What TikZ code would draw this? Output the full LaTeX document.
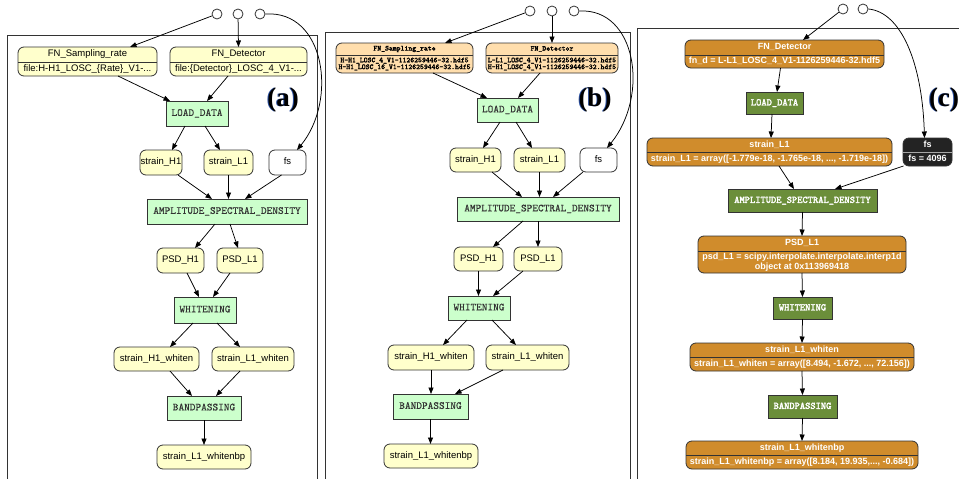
\documentclass[tikz,border=0pt]{standalone}
\usepackage{fontspec}
\usetikzlibrary{arrows.meta,calc}
\newfontfamily\hv{Liberation Sans}
\newfontfamily\lser{Liberation Serif}
\newfontfamily\ttmid{lmmono10-regular.otf}[FakeBold=0.3]
\newfontfamily\ttheavy{lmmono10-regular.otf}[FakeBold=2.6]
\definecolor{dataY}{HTML}{FFFFCC}
\definecolor{procG}{HTML}{CCFFCC}
\definecolor{dataO}{HTML}{FFDEAD}
\definecolor{dataC}{HTML}{D08C2C}
\definecolor{procC}{HTML}{6B8E3A}
\definecolor{inkD}{HTML}{232323}
\definecolor{lineK}{HTML}{333333}
\definecolor{glow}{HTML}{2A4FA0}
\newcommand\fHv{\hv\fontsize{9.5}{11}\selectfont}
\newcommand\fTt{\ttmid\fontsize{10.8}{11}\selectfont}
\newcommand\fTiny{\ttheavy\fontsize{7.4}{6.8}\selectfont}
\newcommand\fHvB{\hv\bfseries\fontsize{9}{10}\selectfont}
\newcommand\fTtB{\ttheavy\fontsize{10}{10}\selectfont}
\tikzset{
  base/.style={draw=lineK, line width=0.8pt, inner sep=0pt, outer sep=0pt, align=center},
  one/.style={text height=6.9pt, text depth=2.1pt},
  datum/.style={base, one, rounded corners=6pt, fill=dataY, font=\fHv, minimum height=25pt},
  proc/.style={base, one, fill=procG, text=lineK, font=\fTt, minimum height=25pt},
  recY/.style={base, rounded corners=6pt, fill=dataY, minimum height=29pt},
  recO/.style={base, rounded corners=6pt, fill=dataO, minimum height=30pt},
  recC/.style={base, rounded corners=6pt, fill=dataC, minimum height=28pt},
  procD/.style={base, one, fill=procC, text=white, font=\fTtB, minimum height=22pt},
  split/.style={draw=lineK, line width=0.8pt},
  txt/.style={inner sep=0pt, outer sep=0pt, align=center},
  circ/.style={circle, draw=lineK, line width=0.8pt, fill=white, minimum size=10pt, inner sep=0pt},
  conn/.style={draw=black, line width=0.75pt, -{Triangle[length=6.5pt,width=5pt]}},
  frame/.style={draw=lineK, line width=1pt},
  plabel/.style={inner sep=0pt, font=\lser\bfseries\fontsize{27}{27}\selectfont},
}
\begin{document}
\begin{tikzpicture}[x=1pt,y=-1pt]
\useasboundingbox (0,0) rectangle (959,479);
\fill[white] (0,0) rectangle (959,479);

% panel frames
\draw[frame] (7,35) rectangle (317,495);
\draw[frame] (325,32) rectangle (630,495);
\draw[frame] (637,28) rectangle (975,495);

%================ panel (a) ================
\node[circ] (c1A) at (217,14) {};
\node[circ] (c2A) at (238,14) {};
\node[circ] (c3A) at (260,14) {};

\node[recY, minimum width=139pt] (fsrA) at (87.5,61.5) {};
\draw[split] ([yshift=-15pt]fsrA.north west) -- ([yshift=-15pt]fsrA.north east);
\node[txt, one, font=\fHv] (fsrA-t) at ([yshift=-7.5pt]fsrA.north) {FN\_Sampling\_rate};
\node[txt, one, font=\fHv] (fsrA-c) at ([yshift=7pt]fsrA.south) {file:H-H1\_LOSC\_\{Rate\}\_V1-...};

\node[recY, minimum width=137pt] (fdA) at (238.5,61.5) {};
\draw[split] ([yshift=-15pt]fdA.north west) -- ([yshift=-15pt]fdA.north east);
\node[txt, one, font=\fHv] (fdA-t) at ([yshift=-7.5pt]fdA.north) {FN\_Detector};
\node[txt, one, font=\fHv] (fdA-c) at ([yshift=7pt]fdA.south) {file:\{Detector\}\_LOSC\_4\_V1-...};

\node[proc, minimum width=62pt] (ldA) at (197,113.5) {LOAD\_DATA};
\node[datum, minimum width=42pt] (shA) at (161,162.5) {strain\_H1};
\node[datum, minimum width=49pt] (slA) at (228.5,162.5) {strain\_L1};
\node[datum, fill=white, minimum width=37pt] (fsA) at (287.5,162.5) {fs};
\node[proc, minimum width=160pt] (asdA) at (227,211.5) {AMPLITUDE\_SPECTRAL\_DENSITY};
\node[datum, minimum width=47pt] (phA) at (180.5,260.5) {PSD\_H1};
\node[datum, minimum width=46pt] (plA) at (240,260.5) {PSD\_L1};
\node[proc, minimum width=62pt, minimum height=26pt] (whA) at (205,310) {WHITENING};
\node[datum, minimum width=85pt, minimum height=24pt] (shwA) at (156.5,359) {strain\_H1\_whiten};
\node[datum, minimum width=82pt, minimum height=24pt] (slwA) at (253,359) {strain\_L1\_whiten};
\node[proc, minimum width=74pt, minimum height=24pt] (bpA) at (204,408) {BANDPASSING};
\node[datum, minimum width=94pt, minimum height=24pt] (bpoA) at (204,457) {strain\_L1\_whitenbp};

\node[plabel, text=glow] (labA-s) at (282.2,100) {(a)};
\node[plabel] (labA) at (283,100) {(a)};

\draw[conn] (c1A) -- ([xshift=42.5pt]fsrA.north);
\draw[conn] (c2A) -- (fdA.north);
\draw[conn] (c3A.east) .. controls (325,10) and (338,100) .. ([xshift=9.5pt]fsA.north);
\draw[conn] ([xshift=30.5pt]fsrA.south) -- ([xshift=-27pt]ldA.north);
\draw[conn] ([xshift=-10.5pt]fdA.south) -- ([xshift=10pt]ldA.north);
\draw[conn] ([xshift=-12pt]ldA.south) -- ([xshift=11pt]shA.north);
\draw[conn] ([xshift=8pt]ldA.south) -- ([xshift=-8.5pt]slA.north);
\draw[conn] ([xshift=17pt]shA.south) -- ([xshift=-15pt]asdA.north);
\draw[conn] (slA.south) -- (slA.south |- asdA.north);
\draw[conn] ([xshift=-6pt]fsA.south) -- ([xshift=18pt]asdA.north);
\draw[conn] ([xshift=-12pt]asdA.south) -- ([xshift=14.5pt]phA.north);
\draw[conn] ([xshift=3pt]asdA.south) -- ([xshift=-2pt]plA.north);
\draw[conn] ([xshift=6.5pt]phA.south) -- ([xshift=-6pt]whA.north);
\draw[conn] ([xshift=-10pt]plA.south) -- ([xshift=8pt]whA.north);
\draw[conn] ([xshift=-12pt]whA.south) -- ([xshift=13.5pt]shwA.north);
\draw[conn] ([xshift=12pt]whA.south) -- ([xshift=-13pt]slwA.north);
\draw[conn] ([xshift=13.5pt]shwA.south) -- ([xshift=-12pt]bpA.north);
\draw[conn] ([xshift=-13pt]slwA.south) -- ([xshift=12pt]bpA.north);
\draw[conn] (bpA.south) -- (bpoA.north);

%================ panel (b) ================
\node[circ] (c1B) at (530,11) {};
\node[circ] (c2B) at (552,11) {};
\node[circ] (c3B) at (574,11) {};

\node[recO, minimum width=137pt] (fsrB) at (404.5,58) {};
\draw[split] ([yshift=-12pt]fsrB.north west) -- ([yshift=-12pt]fsrB.north east);
\node[txt, font=\fTiny] (fsrB-t) at ([yshift=-6pt]fsrB.north) {FN\_Sampling\_rate};
\node[txt, font=\fTiny] (fsrB-c) at ([yshift=9pt]fsrB.south) {H-H1\_LOSC\_4\_V1-1126259446-32.hdf5\\H-H1\_LOSC\_16\_V1-1126259446-32.hdf5};

\node[recO, minimum width=132pt] (fdB) at (552,58) {};
\draw[split] ([yshift=-12pt]fdB.north west) -- ([yshift=-12pt]fdB.north east);
\node[txt, font=\fTiny] (fdB-t) at ([yshift=-6pt]fdB.north) {FN\_Detector};
\node[txt, font=\fTiny] (fdB-c) at ([yshift=9pt]fdB.south) {L-L1\_LOSC\_4\_V1-1126259446-32.hdf5\\H-H1\_LOSC\_4\_V1-1126259446-32.hdf5};

\node[proc, minimum width=61pt, minimum height=24pt] (ldB) at (507.5,110) {LOAD\_DATA};
\node[datum, minimum width=51pt, minimum height=24pt] (shB) at (475.5,160) {strain\_H1};
\node[datum, minimum width=51pt, minimum height=24pt] (slB) at (539.5,160) {strain\_L1};
\node[datum, fill=white, minimum width=37pt, minimum height=24pt] (fsB) at (598.5,160) {fs};
\node[proc, minimum width=162pt, minimum height=24pt] (asdB) at (538,209) {AMPLITUDE\_SPECTRAL\_DENSITY};
\node[datum, minimum width=49pt, minimum height=24pt] (phB) at (478.5,259) {PSD\_H1};
\node[datum, minimum width=48pt, minimum height=24pt] (plB) at (538,259) {PSD\_L1};
\node[proc, minimum width=62pt, minimum height=24pt] (whB) at (479,308) {WHITENING};
\node[datum, minimum width=86pt] (shwB) at (431,357.5) {strain\_H1\_whiten};
\node[datum, minimum width=83pt] (slwB) at (527.5,357.5) {strain\_L1\_whiten};
\node[proc, minimum width=75pt] (bpB) at (430.5,406.5) {BANDPASSING};
\node[datum, minimum width=94pt, minimum height=24pt] (bpoB) at (431,456) {strain\_L1\_whitenbp};

\node[plabel, text=glow] (labB-s) at (594.2,100) {(b)};
\node[plabel] (labB) at (595,100) {(b)};

\draw[conn] (c1B) -- ([xshift=40.5pt]fsrB.north);
\draw[conn] (c2B) -- (fdB.north);
\draw[conn] (c3B.east) .. controls (636,8) and (650,95) .. ([xshift=8.5pt]fsB.north);
\draw[conn] ([xshift=28.5pt]fsrB.south) -- ([xshift=-20.5pt]ldB.north);
\draw[conn] ([xshift=-12pt]fdB.south) -- ([xshift=10.5pt]ldB.north);
\draw[conn] ([xshift=-7.5pt]ldB.south) -- ([xshift=7.5pt]shB.north);
\draw[conn] ([xshift=8.5pt]ldB.south) -- ([xshift=-7.5pt]slB.north);
\draw[conn] ([xshift=16.5pt]shB.south) -- ([xshift=-16pt]asdB.north);
\draw[conn] (slB.south) -- (slB.south |- asdB.north);
\draw[conn] ([xshift=-15.5pt]fsB.south) -- ([xshift=15pt]asdB.north);
\draw[conn] ([xshift=-15pt]asdB.south) -- ([xshift=14.5pt]phB.north);
\draw[conn] (asdB.south) -- (plB.north);
\draw[conn] (phB.south) -- (phB.south |- whB.north);
\draw[conn] ([xshift=-15pt]plB.south) -- ([xshift=14pt]whB.north);
\draw[conn] ([xshift=-12pt]whB.south) -- ([xshift=12pt]shwB.north);
\draw[conn] ([xshift=13pt]whB.south) -- ([xshift=-11.5pt]slwB.north);
\draw[conn] (shwB.south) -- (shwB.south |- bpB.north);
\draw[conn] ([xshift=-24.5pt]slwB.south) -- ([xshift=24.5pt]bpB.north);
\draw[conn] (bpB.south) -- (bpB.south |- bpoB.north);

%================ panel (c) ================
\node[circ] (c1C) at (843,9) {};
\node[circ] (c2C) at (863,9) {};

\node[recC, minimum width=199pt] (fdC) at (784.5,54) {};
\draw[split] ([yshift=-15pt]fdC.north west) -- ([yshift=-15pt]fdC.north east);
\node[txt, one, text=white, font=\fHvB] (fdC-t) at ([yshift=-7.5pt]fdC.north) {FN\_Detector};
\node[txt, one, text=white, font=\fHvB] (fdC-c) at ([yshift=6.5pt]fdC.south) {fn\_d = L-L1\_LOSC\_4\_V1-1126259446-32.hdf5};

\node[procD, minimum width=57pt] (ldC) at (774.5,103) {LOAD\_DATA};

\node[recC, minimum width=245pt] (slC) at (769.5,152) {};
\draw[split] ([yshift=-14pt]slC.north west) -- ([yshift=-14pt]slC.north east);
\node[txt, one, text=white, font=\fHvB] (slC-t) at ([yshift=-7pt]slC.north) {strain\_L1};
\node[txt, one, text=white, font=\fHvB] (slC-c) at ([yshift=7pt]slC.south) {strain\_L1 = array([-1.779e-18, -1.765e-18, ..., -1.719e-18])};

\node[recC, fill=inkD, minimum width=49pt] (fsC) at (927.5,152) {};
\draw[split, draw=white!60!inkD] ([yshift=-14pt]fsC.north west) -- ([yshift=-14pt]fsC.north east);
\node[txt, one, text=white, font=\fHvB] (fsC-t) at ([yshift=-7pt]fsC.north) {fs};
\node[txt, one, text=white, font=\fHvB] (fsC-c) at ([yshift=7pt]fsC.south) {fs = 4096};

\node[procD, minimum width=149pt, minimum height=23pt] (asdC) at (802.5,200.5) {AMPLITUDE\_SPECTRAL\_DENSITY};

\node[recC, minimum width=208pt, minimum height=37pt] (psdC) at (802,254.5) {};
\draw[split] ([yshift=-15pt]psdC.north west) -- ([yshift=-15pt]psdC.north east);
\node[txt, one, text=white, font=\fHvB] (psdC-t) at ([yshift=-7.5pt]psdC.north) {PSD\_L1};
\node[txt, text=white, font=\fHvB] (psdC-c) at ([yshift=11pt]psdC.south) {psd\_L1 = scipy.interpolate.interpolate.interp1d\\object at 0x113969418};

\node[procD, minimum width=59pt] (whC) at (802.5,308) {WHITENING};

\node[recC, minimum width=224pt] (slwC) at (802,357) {};
\draw[split] ([yshift=-14pt]slwC.north west) -- ([yshift=-14pt]slwC.north east);
\node[txt, one, text=white, font=\fHvB] (slwC-t) at ([yshift=-7pt]slwC.north) {strain\_L1\_whiten};
\node[txt, one, text=white, font=\fHvB] (slwC-c) at ([yshift=7pt]slwC.south) {strain\_L1\_whiten = array([8.494, -1.672, ..., 72.156])};

\node[procD, minimum width=69pt, minimum height=23pt] (bpC) at (802.5,406.5) {BANDPASSING};

\node[recC, minimum width=232pt] (bpoC) at (802,455) {};
\draw[split] ([yshift=-14pt]bpoC.north west) -- ([yshift=-14pt]bpoC.north east);
\node[txt, one, text=white, font=\fHvB] (bpoC-t) at ([yshift=-7pt]bpoC.north) {strain\_L1\_whitenbp};
\node[txt, one, text=white, font=\fHvB] (bpoC-c) at ([yshift=7pt]bpoC.south) {strain\_L1\_whitenbp = array([8.184, 19.935,..., -0.684])};

\node[plabel, text=glow] (labC-s) at (943.2,100) {(c)};
\node[plabel] (labC) at (944,100) {(c)};

\draw[conn] (c1C) -- ([xshift=18.5pt]fdC.north);
\draw[conn] (c2C.east) .. controls (900,12) and (922,60) .. ([xshift=-3pt]fsC.north);
\draw[conn] ([xshift=-4pt]fdC.south) -- ([xshift=2.5pt]ldC.north);
\draw[conn] ([xshift=-2.5pt]ldC.south) -- ([xshift=1.5pt]slC.north);
\draw[conn] ([xshift=9.5pt]slC.south) -- ([xshift=-8.5pt]asdC.north);
\draw[conn] ([xshift=-24pt]fsC.south) -- ([xshift=32.5pt]asdC.north);
\draw[conn] (asdC.south) -- (psdC.north);
\draw[conn] (psdC.south) -- (whC.north);
\draw[conn] (whC.south) -- (slwC.north);
\draw[conn] (slwC.south) -- (bpC.north);
\draw[conn] (bpC.south) -- (bpoC.north);
\end{tikzpicture}
\end{document}
